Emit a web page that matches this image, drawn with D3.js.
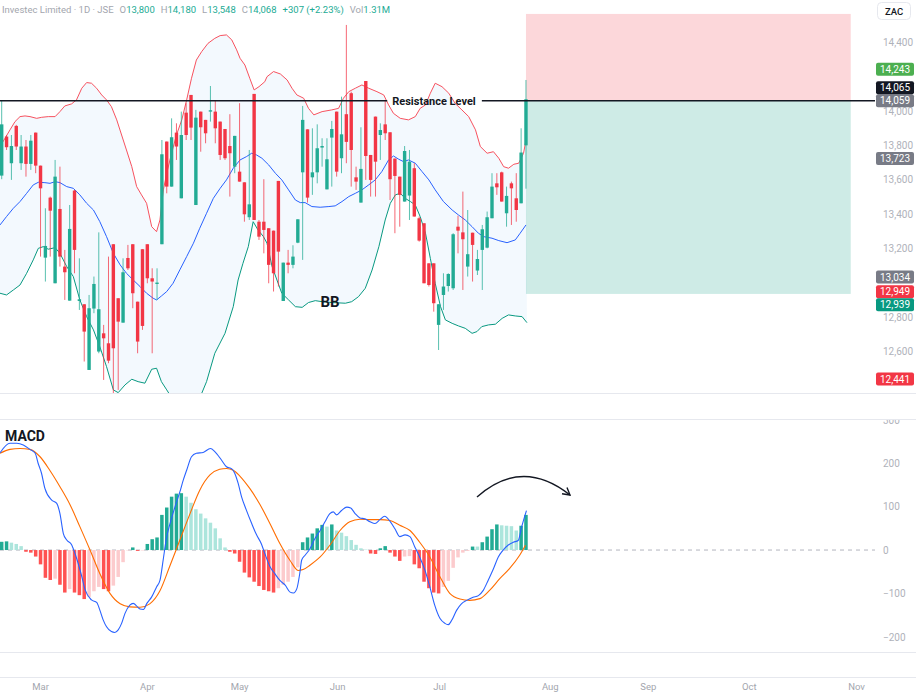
<!DOCTYPE html>
<meta charset="utf-8">
<head>
    <title>Investec BB + MACD</title>
    <script src="https://cdn.jsdelivr.net/npm/d3@7"></script>
</head>

<style>
    body { margin: 0; background: #fff; }
    svg { display: block; font-family: Roboto, "Noto Sans", sans-serif; }
    .axis path, .axis line { display: none; }
</style>

<svg></svg>

<script>
    // daily candles (ZAC), index 0 = first visible bar
    var opens = [13624,13851,13696,13913,13696,13793,13692,13874,13682,13147,13496,12998,13430,13095,12897,13537,12895,12876,12494,12851,
        12601,12707,12649,13225,12911,12769,13145,13225,12891,13196,13225,13027,12994,13225,13822,13560,13874,13492,13990,14093,
        13453,13996,13948,13996,13996,13938,13895,13796,13676,13647,13585,13382,14099,13356,13356,13318,13304,13593,12895,13118,
        13105,13234,13643,13893,13614,13643,13787,13544,13845,13996,13725,13981,14103,13614,13467,14174,13744,13967,13860,13922,
        13876,13723,13618,13473,13508,13667,13376,13347,13114,13114,12756,12930,12982,12969,13327,13294,13095,13292,13072,13192,
        13205,13376,13579,13643,13405,13579,13492,13463,13800];
    var highs = [14058,13860,13860,13919,13860,13831,13860,13874,13682,13434,13502,13715,13676,13192,13453,13541,13143,12876,12930,13037,
        13294,12756,13153,13225,12911,13143,13221,13225,12891,13196,13225,13085,13085,13831,13822,13957,13928,13996,14045,14093,
        14006,13996,13948,14145,14058,13938,13895,13981,13855,14045,13585,13773,14099,13366,13603,13318,13304,13593,13118,13192,
        13219,13370,14029,13893,13899,13922,13841,13841,13942,13996,14083,14500,14112,13676,13905,14174,13744,13967,13928,14064,
        13876,13723,13618,13796,13773,13696,13386,13347,13114,13114,12876,13056,13056,13289,13391,13531,13424,13292,13192,13337,
        13415,13638,13638,13647,13560,13589,13638,13899,14180];
    var lows = [13603,13773,13599,13773,13657,13618,13657,13638,13153,13008,13153,12998,13095,12901,12897,13056,12843,12543,12494,12824,
        12591,12436,12533,12358,12378,12769,13075,12853,12591,12727,12998,12591,12901,13225,13521,13560,13715,13492,13831,13831,
        13453,13763,13812,13938,13812,13715,13715,13502,13638,13589,13356,13366,13366,13250,13172,12998,12950,12979,12895,13056,
        13085,13231,13134,13467,13512,13579,13676,13544,13560,13618,13638,13696,13560,13541,13467,13599,13502,13502,13715,13831,
        13482,13289,13327,13473,13366,13386,13240,12998,12979,12833,12610,12843,12950,12959,13172,12959,13037,13008,13046,12959,
        13201,13376,13512,13473,13327,13337,13356,13463,13548];
    var closes = [13922,13789,13796,13793,13793,13692,13827,13682,13550,13215,13420,13618,13153,13062,13314,13192,12905,12717,12853,12994,
        12847,12678,12548,12620,12775,13062,13085,12940,12659,12750,13027,13008,13002,13748,13560,13847,13793,13860,13860,13903,
        13961,13905,13870,14004,13899,13744,13725,13754,13855,13589,13399,13457,13366,13269,13308,13105,13056,13182,13118,13105,
        13153,13370,13948,13496,13643,13783,13796,13719,13895,13647,13864,13820,13773,13589,13663,13738,13599,13705,13889,13870,
        13603,13622,13512,13767,13705,13386,13246,12998,12988,12882,12876,12979,13052,13283,13304,13254,13167,13221,13139,13312,
        13382,13560,13556,13473,13506,13550,13424,13758,14068];

    // Bollinger Bands: [bar index, price]
    var bbUpper = [[-0.35,13793],[0.68,13841],[1.71,13890],[2.74,13938],[3.77,13967],[4.8,13971],[5.83,13967],[7.2,13957],[8.23,13963],[9.6,13967],
        [11,13967],[12,13996],[13,14029],[14.4,14041],[15.4,14064],[16.5,14132],[17.5,14165],[18.5,14161],[19.55,14132],[20.6,14093],
        [21.6,14064],[22.6,14025],[23.7,13948],[24.7,13860],[25.7,13773],[26.8,13676],[27.8,13560],[28.8,13512],[29.85,13463],[30.9,13327],
        [31.9,13298],[32.6,13366],[33.3,13541],[34,13638],[35,13754],[36,13860],[37.1,13948],[38.1,14064],[39.1,14190],[40.1,14296],
        [41.2,14345],[42.5,14393],[43.9,14422],[45,14438],[46.3,14442],[47.4,14413],[48.4,14355],[49.1,14306],[50.1,14267],[51.1,14190],
        [52,14122],[53,14141],[54.2,14170],[54.65,14199],[56,14229],[57.4,14215],[58.8,14180],[59.8,14132],[60.8,14093],[62.2,14074],
        [63.2,14015],[64.3,13977],[66,13996],[68,14006],[69.4,14015],[70.4,14074],[71.5,14112],[72.85,14132],[74.2,14151],[75.6,14132],
        [77.3,14112],[78.7,14093],[79.7,14035],[80.7,13986],[82.1,13957],[83.8,13948],[85.2,13967],[86.2,14015],[87.3,14035],[88.3,14103],
        [89.3,14161],[90.7,14141],[92.1,14103],[93.4,14044],[94.8,14006],[96.2,13967],[97.6,13890],[98.6,13793],[100,13754],[101.3,13763],
        [102.4,13725],[103.4,13676],[104.4,13667],[105.5,13690],[106.5,13696],[107.5,13754],[108,13830]];
    var bbBasis = [[-0.35,13337],[1,13386],[2.4,13434],[3.77,13473],[5.14,13521],[6.5,13570],[7.54,13585],[8.9,13583],[9.95,13579],[11,13589],
        [12,13583],[13.4,13560],[14.75,13550],[16.1,13512],[17.5,13463],[18.9,13424],[20.2,13357],[21.6,13269],[23,13172],[24.4,13105],
        [25.7,13056],[27.1,13017],[28.5,12979],[29.85,12940],[31.2,12911],[31.9,12901],[32.9,12924],[34,12950],[35.3,12998],[36.7,13076],
        [38.1,13153],[39.5,13231],[40.8,13318],[42.2,13405],[43.6,13492],[45,13550],[46.3,13599],[47.7,13667],[49.1,13715],[50.4,13734],
        [51.5,13754],[52.5,13744],[53.6,13725],[55,13686],[56.4,13637],[57.7,13599],[59.1,13541],[60.5,13482],[61.5,13467],[62.5,13467],
        [63.9,13444],[65.6,13440],[67.4,13444],[68.7,13448],[70.1,13473],[71.5,13502],[72.85,13521],[74.2,13541],[75.6,13570],[76.95,13599],
        [78.3,13647],[79.7,13715],[80.7,13738],[81.8,13719],[82.8,13705],[83.8,13715],[85.2,13696],[86.6,13647],[88,13599],[89.3,13541],
        [91,13473],[92.8,13424],[94.1,13395],[95.5,13366],[96.9,13327],[98.2,13289],[99.3,13269],[101,13260],[102.4,13246],[104.1,13234],
        [105.8,13250],[106.8,13289],[108,13337]];
    var bbLower = [[-0.35,12940],[1,12930],[2.4,12959],[3.77,12988],[5.14,13056],[6.5,13134],[7.54,13201],[8.57,13211],[9.6,13196],[11,13205],
        [12,13172],[13.4,13095],[14.75,13037],[16.1,12901],[17.5,12804],[18.9,12727],[20.2,12630],[21.6,12513],[23,12378],[24,12362],
        [25.4,12407],[26.8,12440],[28.1,12426],[29.5,12417],[30.9,12498],[31.9,12504],[32.9,12426],[34,12378],[35.3,12320],[37.4,12281],
        [39.5,12291],[41.2,12358],[42.2,12426],[43.9,12591],[46,12707],[47.7,12862],[48.7,13017],[49.7,13114],[50.8,13211],[51.8,13356],
        [52.8,13308],[53.9,13270],[54.65,13231],[55.7,13095],[56.7,13017],[57.7,12940],[59.1,12901],[60.5,12862],[61.9,12858],[63.2,12886],
        [64.6,12897],[66,12891],[68,12886],[70.8,12882],[72.1,12891],[73.5,12920],[74.9,12969],[76.3,13075],[77.7,13211],[79,13366],
        [80.05,13463],[81.1,13512],[82.1,13521],[83.1,13492],[84.2,13473],[85.2,13453],[86.2,13386],[87.3,13289],[88.3,13143],[89.3,12998],
        [90.4,12862],[91.4,12785],[92.8,12765],[94.1,12750],[95.5,12736],[96.9,12707],[97.9,12717],[98.9,12746],[100.3,12756],[101.7,12760],
        [103.1,12794],[104.4,12814],[105.8,12808],[107.2,12804],[108.2,12769]];

    // MACD pane
    var macdHist = [19,20,17,14,9,-4,-6,-15,-33,-64,-69,-66,-80,-98,-90,-98,-104,-113,-108,-95,
        -85,-90,-95,-82,-62,-28,-1,6,-2,-1,14,25,29,81,98,123,130,131,123,109,
        94,84,73,63,50,27,6,-4,-8,-27,-52,-63,-73,-83,-92,-95,-98,-88,-80,-73,
        -62,-40,18,29,38,50,58,54,59,45,40,32,23,12,4,1,-8,-9,4,9,
        -6,-15,-25,-15,-14,-33,-42,-73,-88,-98,-100,-85,-71,-41,-17,-6,-2,8,8,18,
        31,48,59,57,56,55,45,56,81];
    var macdLine = [[-0.35,224],[1.7,246],[3.1,246],[4.45,242],[5.8,232],[6.9,223],[7.5,200],[8.2,177],[8.9,142],[10.3,115],
        [11.3,108],[12,84],[12.7,38],[13.4,23],[14.4,12],[15.1,-8],[16.5,-61],[17.2,-92],[18.5,-115],[19.6,-121],
        [20.2,-138],[20.9,-161],[21.6,-177],[22.6,-188],[23.3,-190],[24,-184],[24.7,-169],[25.4,-146],[26.4,-127],[27.1,-123],
        [28.5,-136],[29.2,-137],[29.9,-123],[30.9,-108],[31.9,-85],[32.6,-70],[33.3,-20],[33.9,25],[34.6,58],[35.3,85],
        [36,110],[36.7,134],[37.4,161],[38.1,184],[39.1,215],[40.1,223],[41.5,225],[43,234],[43.9,227],[45.3,207],
        [46.3,192],[47.4,187],[48,177],[48.7,154],[49.4,123],[50.4,92],[51.5,61],[52.5,35],[53.5,14],[54.2,-8],
        [55.3,-39],[56.3,-55],[57.3,-70],[58.4,-81],[59.4,-97],[60.1,-99],[60.8,-89],[61.4,-54],[61.8,-23],[62.5,-12],
        [63.5,3],[64.5,26],[65.6,45],[66.6,65],[67.6,84],[68.3,88],[69,81],[70,91],[71.1,99],[71.9,97],
        [72.8,84],[73.8,74],[74.8,72],[75.9,65],[76.9,61],[77.9,70],[78.9,78],[80,66],[81,49],[82,31],
        [83.1,35],[84.1,31],[85.1,7],[86.1,-16],[87.2,-47],[88.2,-85],[89.2,-127],[90.3,-158],[91.3,-169],[92,-172],
        [92.7,-162],[93.7,-139],[94.7,-124],[95.8,-116],[97.1,-109],[98.2,-105],[99.2,-93],[100.2,-70],[101.3,-43],[102.3,-16],
        [103.3,0],[104.3,11],[105.4,18],[106.4,22],[107.1,53],[108.1,91]];
    var signalLine = [[-0.35,223],[1.7,232],[3.77,234],[5.83,232],[7.9,215],[9.9,184],[12,146],[14.1,104],[16.1,54],[18.2,0],
        [20.2,-54],[22.3,-100],[24.4,-124],[26.4,-131],[28.5,-132],[30.5,-124],[32.6,-94],[34.6,-38],[36.7,23],[38.8,84],
        [40.8,138],[42.9,173],[44.9,186],[46.3,188],[47.7,184],[49.1,170],[51.1,142],[53.2,105],[55.3,60],[57.3,15],
        [59.4,-24],[61.1,-47],[62.1,-45],[63.5,-35],[65.6,-16],[67.6,11],[69.7,45],[71.7,65],[73.8,71],[75.9,70],
        [77.9,70],[80,68],[82,57],[84.1,45],[86.1,18],[88.2,-16],[90.3,-62],[92.3,-100],[94.4,-113],[96.4,-116],
        [98.5,-112],[100.5,-93],[102.6,-66],[104.6,-43],[106.7,-12],[107.9,11]];

    // axes and labels
    var priceTicks = [12400, 12600, 12800, 13000, 13200, 13400, 13600, 13800, 14000, 14200, 14400];
    var macdTicks = [-200, -100, 0, 100, 200, 300];
    var monthIdx = [7.9, 29.9, 48.9, 69.1, 90.1, 112.9, 133.1, 153.9, 176];
    var monthNames = ["Mar", "Apr", "May", "Jun", "Jul", "Aug", "Sep", "Oct", "Nov"];
    var labelValues = [14059, 12949, 14243, 14065, 13723, 13034, 12939, 12441];
    var labelColors = ["#787b86", "#f23645", "#4caf50", "#131722", "#787b86", "#787b86", "#089981", "#f23645"];

    // short position drawing: entry, stop, target, bars
    var resistance = 14059;
    var posEntry = 14059, posStop = 14564, posTarget = 12936;
    var posStart = 108, posEnd = 174.9;

    var header = [["", "Investec Limited · 1D · JSE"], ["O", "13,800"], ["H", "14,180"], ["L", "13,548"],
        ["C", "14,068"], ["", "+307 (+2.23%)"], ["Vol", "1.31M"]];

    var W = 916, H = 697;
    var UP = "#22ab94", DOWN = "#f23645";

    var svg = d3.select("svg").attr("width", W).attr("height", H);

    var x = d3.scaleLinear().domain([-0.35, 179.9]).range([0, 875]);
    var yP = d3.scaleLinear().domain([12360, 14645]).range([393, 0]);
    var yM = d3.scaleLinear().domain([-235, 302]).range([652, 419]);

    var defs = svg.append("defs");
    defs.append("clipPath").attr("id", "clipMain")
        .append("rect").attr("x", 0).attr("y", 0).attr("width", 875).attr("height", 393);
    defs.append("clipPath").attr("id", "clipMacd")
        .append("rect").attr("x", 0).attr("y", 419).attr("width", 875).attr("height", 233);
    defs.append("clipPath").attr("id", "clipMacdAxis")
        .append("rect").attr("x", 875).attr("y", 420).attr("width", 41).attr("height", 232);
    defs.append("marker").attr("id", "arrowHead")
        .attr("viewBox", "0 0 10 10").attr("refX", 8).attr("refY", 5)
        .attr("markerWidth", 10).attr("markerHeight", 10)
        .attr("markerUnits", "userSpaceOnUse").attr("orient", "auto")
        .append("path").attr("d", "M1,1 L8,5 L1,9")
        .attr("fill", "none").attr("stroke", "#131722").attr("stroke-width", 1.4);

    // pane separators
    [393.5, 419.5, 652.5, 677.5].forEach(function (yy) {
        svg.append("line").attr("x1", 0).attr("x2", W).attr("y1", yy).attr("y2", yy)
            .attr("stroke", "#e6e8ee").attr("stroke-width", 1);
    });

    // ---- main pane ----
    var main = svg.append("g").attr("clip-path", "url(#clipMain)");

    var bandLine = d3.line().x(function (d) { return x(d[0]); }).y(function (d) { return yP(d[1]); });

    main.append("path")
        .attr("d", bandLine(bbUpper.concat(bbLower.slice().reverse())) + "Z")
        .attr("fill", "rgba(33,150,243,0.055)");

    // position zones
    main.append("rect")
        .attr("x", x(posStart)).attr("width", x(posEnd) - x(posStart))
        .attr("y", yP(posStop)).attr("height", yP(posEntry) - yP(posStop))
        .attr("fill", "rgba(242,54,69,0.2)");
    main.append("rect")
        .attr("x", x(posStart)).attr("width", x(posEnd) - x(posStart))
        .attr("y", yP(posEntry)).attr("height", yP(posTarget) - yP(posEntry))
        .attr("fill", "rgba(8,153,129,0.2)");

    [[bbUpper, "#f7525f"], [bbBasis, "#2962ff"], [bbLower, "#089981"]].forEach(function (b) {
        main.append("path").attr("d", bandLine(b[0]))
            .attr("fill", "none").attr("stroke", b[1]).attr("stroke-width", 1);
    });

    var idx = d3.range(opens.length);
    main.selectAll(".wick").data(idx).enter().append("line")
        .attr("x1", function (i) { return x(i); }).attr("x2", function (i) { return x(i); })
        .attr("y1", function (i) { return yP(highs[i]); })
        .attr("y2", function (i) { return yP(lows[i]); })
        .attr("stroke", function (i) { return closes[i] >= opens[i] ? UP : DOWN; })
        .attr("stroke-opacity", 0.75)
        .attr("stroke-width", 1);
    main.selectAll(".body").data(idx).enter().append("rect")
        .attr("x", function (i) { return x(i) - 1.7; })
        .attr("width", 3.4)
        .attr("y", function (i) { return yP(Math.max(opens[i], closes[i])); })
        .attr("height", function (i) { return Math.max(1, Math.abs(yP(opens[i]) - yP(closes[i]))); })
        .attr("fill", function (i) { return closes[i] >= opens[i] ? UP : DOWN; });

    // resistance line with its caption
    var resY = yP(resistance);
    var resText = svg.append("text").attr("x", 434).attr("y", resY + 4)
        .attr("text-anchor", "middle").attr("font-size", 11).attr("font-weight", 700)
        .attr("fill", "#131722").text("Resistance Level");
    var rb = resText.node().getBBox();
    svg.append("line").attr("x1", 0).attr("x2", rb.x - 5).attr("y1", resY).attr("y2", resY)
        .attr("stroke", "#131722").attr("stroke-width", 1.5);
    svg.append("line").attr("x1", rb.x + rb.width + 6).attr("x2", 875).attr("y1", resY).attr("y2", resY)
        .attr("stroke", "#131722").attr("stroke-width", 1.5);

    svg.append("text").attr("x", 330).attr("y", 307).attr("text-anchor", "middle")
        .attr("font-size", 15).attr("font-weight", 700).attr("fill", "#131722").text("BB");

    // price labels, nudged apart when they collide
    var placed = [];
    labelValues.forEach(function (v, k) {
        var yy = yP(v);
        placed.forEach(function (p) {
            if (Math.abs(yy - p.y) < 13) yy = v > p.v ? p.y - 13 : p.y + 13;
        });
        placed.push({ v: v, y: yy, c: labelColors[k] });
    });

    // price axis (ticks hidden where a label box sits on them)
    var freeTicks = priceTicks.filter(function (t) {
        return placed.every(function (p) { return Math.abs(yP(t) - p.y) >= 10; });
    });
    var pAxis = svg.append("g").attr("class", "axis").attr("transform", "translate(883,0)")
        .call(d3.axisRight(yP).tickValues(freeTicks).tickSize(0).tickPadding(0).tickFormat(d3.format(",")));
    pAxis.selectAll("text").attr("font-size", 10).attr("fill", "#afb2ba").attr("font-family", "Roboto");

    var lab = svg.append("g").selectAll("g").data(placed).enter().append("g");
    lab.append("rect").attr("x", 876).attr("width", 38).attr("height", 13).attr("rx", 2)
        .attr("y", function (d) { return d.y - 6.5; })
        .attr("fill", function (d) { return d.c; });
    lab.append("text").attr("x", 895).attr("y", function (d) { return d.y + 3.6; })
        .attr("text-anchor", "middle").attr("font-size", 10).attr("fill", "#fff")
        .text(function (d) { return d3.format(",")(d.v); });

    // currency box
    svg.append("rect").attr("x", 877.5).attr("y", 2.5).attr("width", 33).attr("height", 17).attr("rx", 4)
        .attr("fill", "#fff").attr("stroke", "#e6e8ee");
    svg.append("text").attr("x", 894).attr("y", 14.5).attr("text-anchor", "middle")
        .attr("font-size", 9.5).attr("font-weight", 500).attr("fill", "#131722").text("ZAC");

    // header, laid out left to right
    var hx = 2;
    header.forEach(function (d, k) {
        var t = svg.append("text").attr("x", hx).attr("y", 13).attr("font-size", 9.5);
        t.append("tspan").attr("fill", "#a3a6ae").text(d[0]);
        t.append("tspan").attr("fill", k === 0 ? "#a3a6ae" : UP).text(d[1]);
        hx += t.node().getComputedTextLength() + 6;
    });

    // ---- MACD pane ----
    var mp = svg.append("g").attr("clip-path", "url(#clipMacd)");
    mp.append("line").attr("x1", 0).attr("x2", 875).attr("y1", yM(0)).attr("y2", yM(0))
        .attr("stroke", "#b2b5be").attr("stroke-dasharray", "4,4");

    function histColor(i) {
        var v = macdHist[i], p = i > 0 ? macdHist[i - 1] : v - 1;
        if (v >= 0) return v > p ? "#22ab94" : "#ace5dc";
        return v < p ? "#ff5252" : "#fccbcd";
    }
    mp.selectAll(".hist").data(idx).enter().append("rect")
        .attr("x", function (i) { return x(i) - 1.75; })
        .attr("width", 3.5)
        .attr("y", function (i) { return Math.min(yM(0), yM(macdHist[i])); })
        .attr("height", function (i) { return Math.abs(yM(macdHist[i]) - yM(0)); })
        .attr("fill", histColor);

    var mLine = d3.line().x(function (d) { return x(d[0]); }).y(function (d) { return yM(d[1]); })
        .curve(d3.curveMonotoneX);
    mp.append("path").attr("d", mLine(signalLine)).attr("fill", "none")
        .attr("stroke", "#ff6d00").attr("stroke-width", 1.1);
    mp.append("path").attr("d", mLine(macdLine)).attr("fill", "none")
        .attr("stroke", "#2962ff").attr("stroke-width", 1.1);

    svg.append("text").attr("x", 5).attr("y", 441).attr("font-size", 14).attr("font-weight", 700)
        .attr("fill", "#131722").text("MACD");

    // expected turn arrow
    svg.append("path").attr("d", "M477,497 Q522,457 570,495")
        .attr("fill", "none").attr("stroke", "#131722").attr("stroke-width", 1.4)
        .attr("marker-end", "url(#arrowHead)");

    var mAxis = svg.append("g").attr("class", "axis").attr("clip-path", "url(#clipMacdAxis)")
        .append("g").attr("transform", "translate(883,0)")
        .call(d3.axisRight(yM).tickValues(macdTicks).tickSize(0).tickPadding(0)
            .tickFormat(function (d) { return d < 0 ? "\u2212" + Math.abs(d) : d; }));
    mAxis.selectAll("text").attr("font-size", 10).attr("fill", "#afb2ba").attr("font-family", "Roboto");

    // time axis
    var tAxis = svg.append("g").attr("class", "axis").attr("transform", "translate(0,683)")
        .call(d3.axisBottom(x).tickValues(monthIdx).tickSize(0).tickPadding(0)
            .tickFormat(function (d, k) { return monthNames[k]; }));
    tAxis.selectAll("text").attr("font-size", 9.5).attr("fill", "#a3a6ae").attr("font-family", "Roboto");
</script>
